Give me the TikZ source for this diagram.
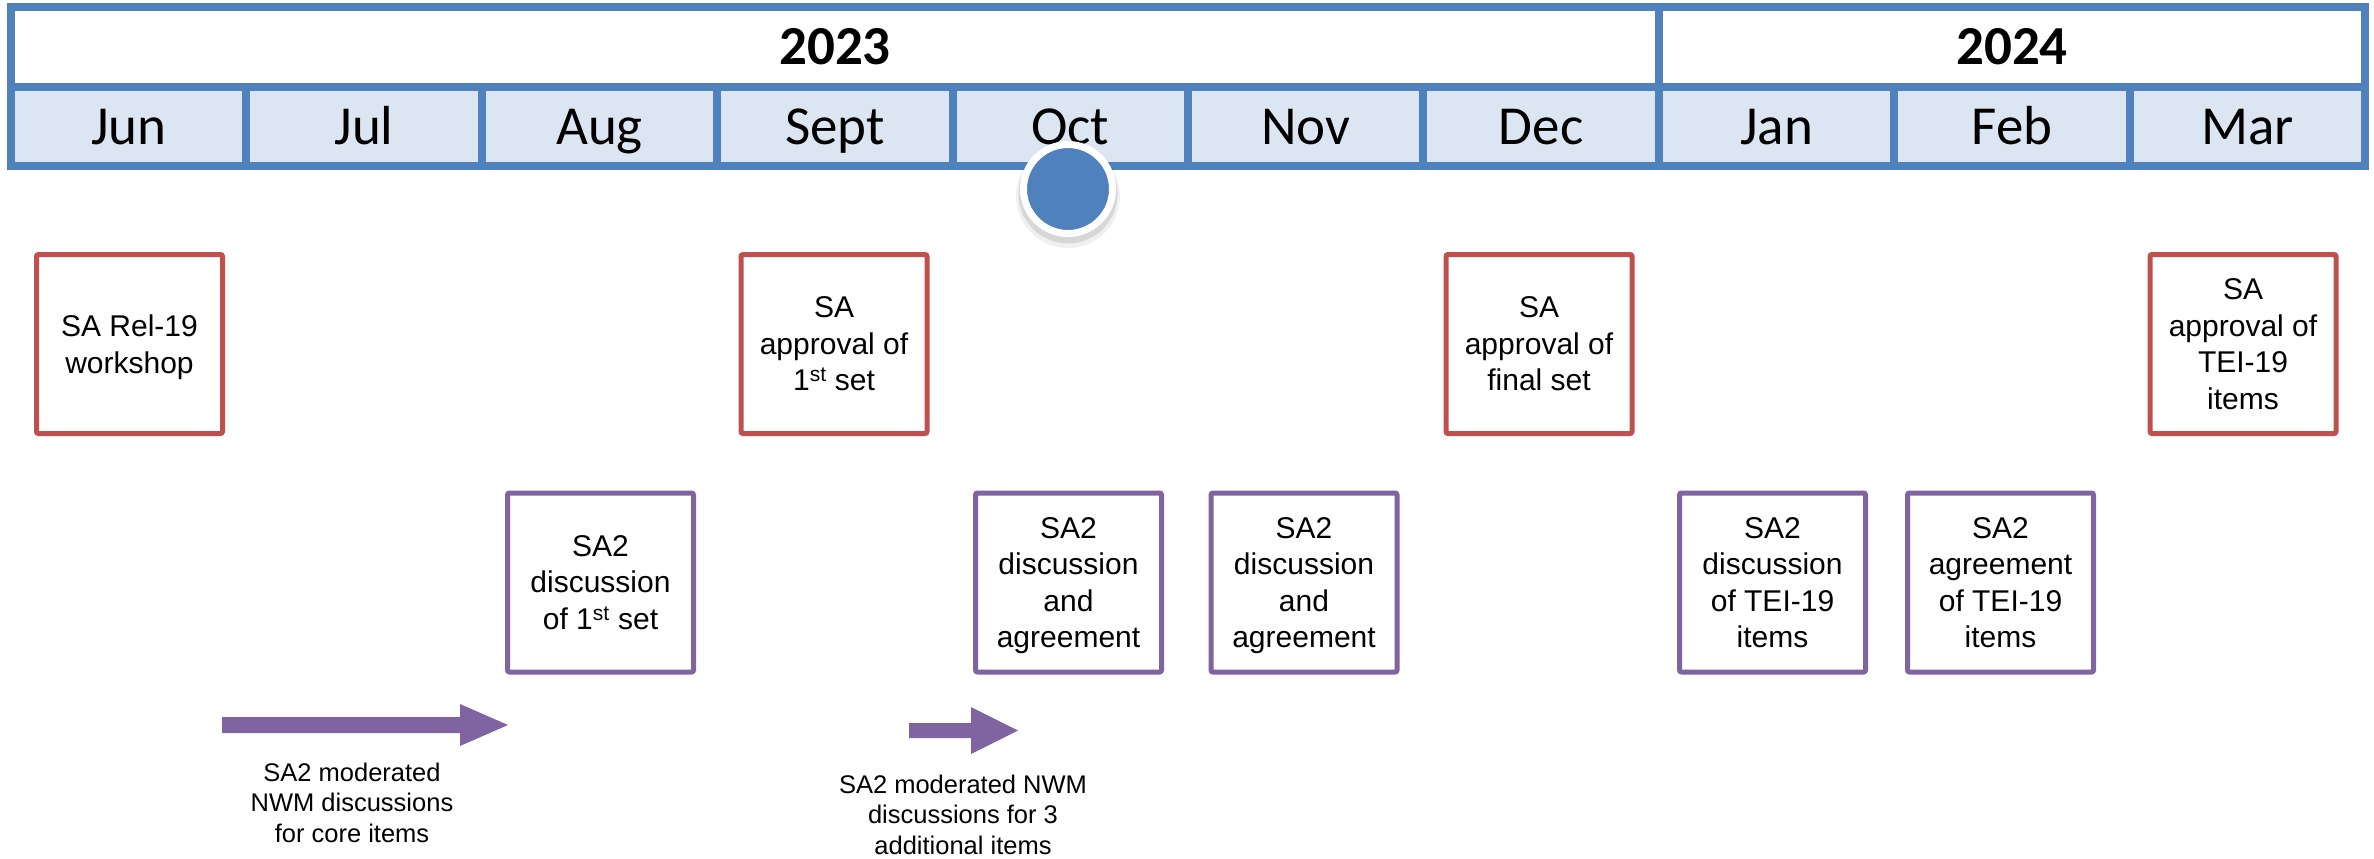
\documentclass[tikz,border=0pt]{standalone}
\usepackage{fontspec}
\setmainfont{Liberation Sans}
\newfontfamily\calfont{Carlito}
\definecolor{hdrblue}{HTML}{4F81BD}
\definecolor{hdrfill}{HTML}{DCE6F2}
\definecolor{boxred}{HTML}{C0504D}
\definecolor{boxpurple}{HTML}{8064A2}
\begin{document}
\begin{tikzpicture}[x=1pt,y=-1pt,
  yearcell/.style={draw=hdrblue, line width=8pt, fill=white, minimum height=80pt, inner sep=0pt,
    font=\calfont\bfseries\fontsize{55}{60}\selectfont, text height=35pt, text depth=0pt},
  monthcell/.style={draw=hdrblue, line width=8pt, fill=hdrfill, minimum width=235.4pt, minimum height=79pt, inner sep=0pt,
    font=\calfont\fontsize{55}{60}\selectfont, text height=35pt, text depth=0pt},
  evbox/.style={line width=5pt, rounded corners=2pt, fill=white, minimum width=186pt, minimum height=179pt,
    inner sep=0pt, align=center, font=\fontsize{30}{36.5}\selectfont},
  redbox/.style={evbox, draw=boxred},
  purplebox/.style={evbox, draw=boxpurple},
  note/.style={align=center, inner sep=0pt, font=\fontsize{25.5}{30.5}\selectfont},
  blockarrow/.style={fill=boxpurple}
]
\useasboundingbox (0,0) rectangle (2374,859);
\fill[white] (0,0) rectangle (2374,859);
% header
\node[yearcell, minimum width=1648pt] (y23) at (835,47) {2023};
\node[yearcell, minimum width=706pt] (y24) at (2012,47) {2024};
\node[monthcell] (m1) at (128.7,126.5) {Jun};
\node[monthcell] (m2) at (364.1,126.5) {Jul};
\node[monthcell] (m3) at (599.5,126.5) {Aug};
\node[monthcell] (m4) at (834.9,126.5) {Sept};
\node[monthcell] (m5) at (1070.3,126.5) {Oct};
\node[monthcell] (m6) at (1305.7,126.5) {Nov};
\node[monthcell] (m7) at (1541.1,126.5) {Dec};
\node[monthcell] (m8) at (1776.5,126.5) {Jan};
\node[monthcell] (m9) at (2011.9,126.5) {Feb};
\node[monthcell] (m10) at (2247.3,126.5) {Mar};
% milestone marker
\fill[black, opacity=0.06] (1068,196) circle (52);
\fill[black, opacity=0.10] (1068,194) circle (49.5);
\node[circle, fill=hdrblue, draw=white, line width=7pt, minimum size=89pt, inner sep=0pt] (mark) at (1068,189) {};
% SA boxes
\node[redbox] (b1) at (129.5,344) {SA Rel-19\\\smash{workshop}};
\node[redbox] (b2) at (834,344) {SA\\approval of\\1\textsuperscript{st} set};
\node[redbox] (b3) at (1539,344) {SA\\approval of\\final set};
\node[redbox] (b4) at (2243,344) {SA\\approval of\\TEI-19\\items};
% SA2 boxes
\node[purplebox] (p1) at (600.5,582.5) {SA2\\discussion\\of 1\textsuperscript{st} set};
\node[purplebox] (p2) at (1068.5,582.5) {SA2\\discussion\\and\\\smash{agreement}};
\node[purplebox] (p3) at (1304,582.5) {SA2\\discussion\\and\\\smash{agreement}};
\node[purplebox] (p4) at (1772.5,582.5) {SA2\\discussion\\of TEI-19\\items};
\node[purplebox] (p5) at (2000.5,582.5) {SA2\\agreement\\of TEI-19\\items};
% block arrows
\fill[blockarrow] (222,717) -- (460,717) -- (460,704) -- (508,725) -- (460,746) -- (460,733) -- (222,733) -- cycle;
\fill[blockarrow] (909,723) -- (971,723) -- (971,707) -- (1018,730.5) -- (971,754) -- (971,738) -- (909,738) -- cycle;
% notes
\node[note, anchor=north] (n1) at (352,762.5) {SA2 moderated\\NWM discussions\\for core items};
\node[note, anchor=north] (n2) at (963,774.5) {SA2 moderated NWM\\discussions for 3\\additional items};
\end{tikzpicture}
\end{document}
